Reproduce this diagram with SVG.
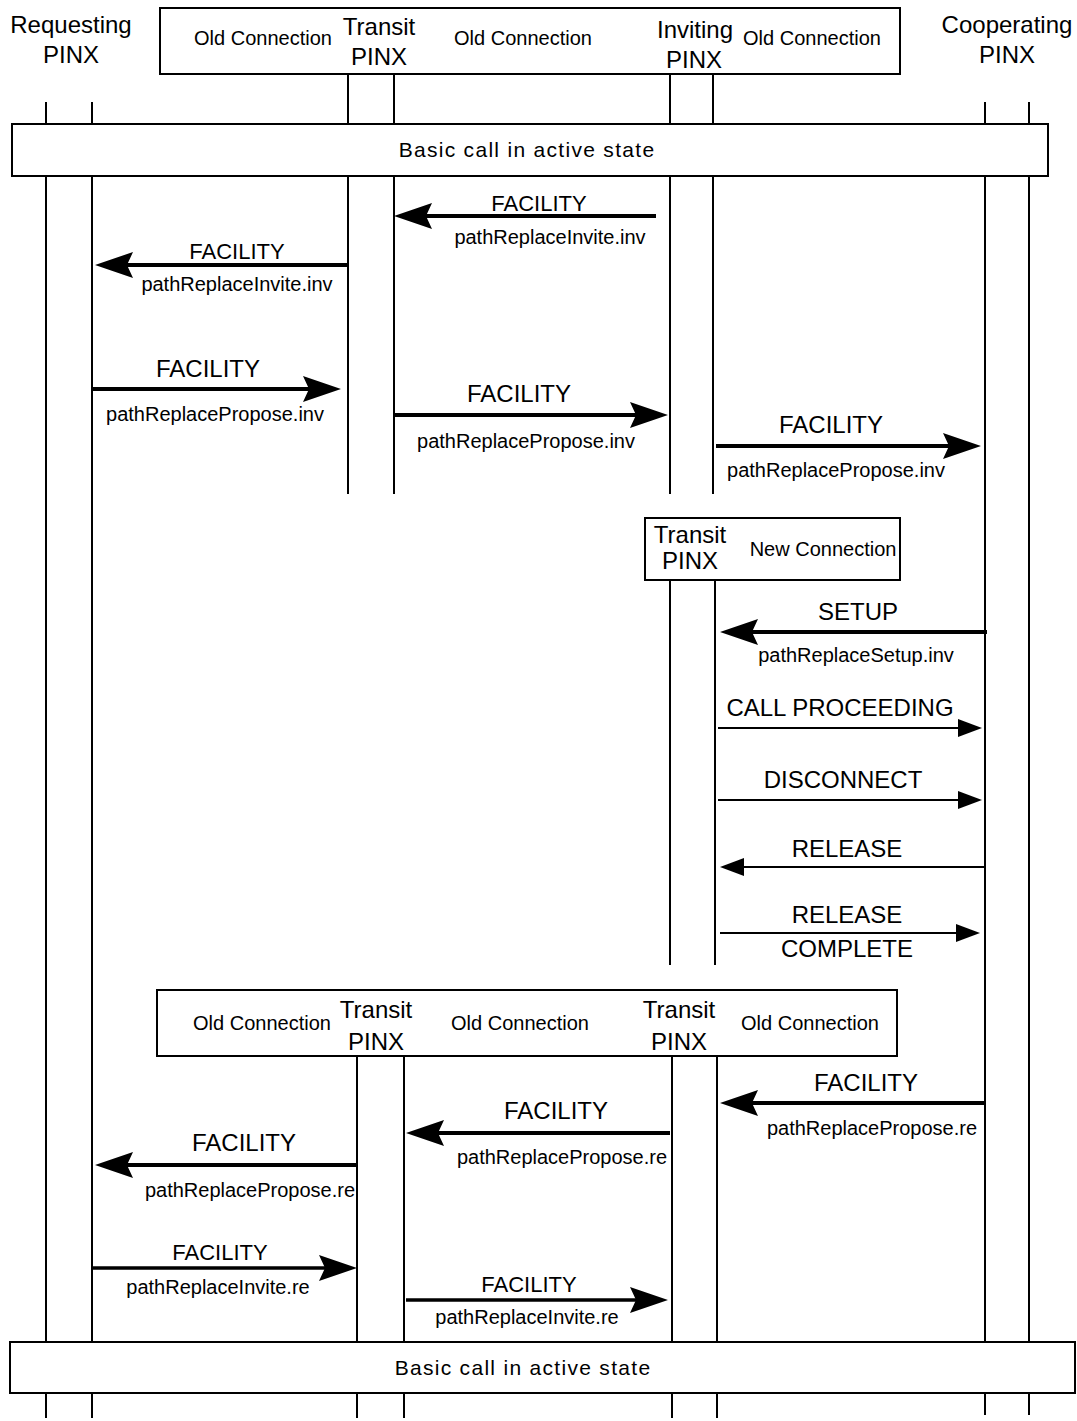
<svg xmlns="http://www.w3.org/2000/svg" width="1077" height="1421" viewBox="0 0 1077 1421">
<style>
text{font-family:"Liberation Sans",Arial,sans-serif;fill:#000;text-anchor:middle}
.h{font-size:24px}
.s{font-size:20px}
.m{font-size:24px}
.st{font-size:21px;letter-spacing:1.3px}
.box{fill:#fff;stroke:#000;stroke-width:2}
.life{stroke:#000;stroke-width:2;fill:none}
.big{stroke:#000;stroke-width:4;fill:none;marker-end:url(#ah)}
.med{stroke:#000;stroke-width:3.5;fill:none;marker-end:url(#ah)}
.thin{stroke:#000;stroke-width:2;fill:none;marker-end:url(#at)}
</style>
<defs>
<marker id="ah" markerUnits="userSpaceOnUse" viewBox="0 0 38 26" refX="28" refY="13" markerWidth="38" markerHeight="26" orient="auto">
<path d="M0,0 L38,13 L0,26 L6,13 Z" fill="#000"/>
</marker>
<marker id="at" markerUnits="userSpaceOnUse" viewBox="0 0 24 18" refX="16" refY="9" markerWidth="24" markerHeight="18" orient="auto">
<path d="M0,0 L24,9 L0,18 Z" fill="#000"/>
</marker>
</defs>
<rect width="1077" height="1421" fill="#fff"/>

<g id="lifelines">
<line class="life" x1="46" y1="102" x2="46" y2="1418"/>
<line class="life" x1="92" y1="102" x2="92" y2="1418"/>
<line class="life" x1="348" y1="74" x2="348" y2="494"/>
<line class="life" x1="394" y1="74" x2="394" y2="494"/>
<line class="life" x1="670" y1="74" x2="670" y2="494"/>
<line class="life" x1="713" y1="74" x2="713" y2="494"/>
<line class="life" x1="985" y1="102" x2="985" y2="1415"/>
<line class="life" x1="1029" y1="102" x2="1029" y2="1415"/>
<line class="life" x1="670" y1="580" x2="670" y2="965"/>
<line class="life" x1="715" y1="580" x2="715" y2="965"/>
<line class="life" x1="357" y1="1056" x2="357" y2="1418"/>
<line class="life" x1="404" y1="1056" x2="404" y2="1418"/>
<line class="life" x1="672" y1="1056" x2="672" y2="1418"/>
<line class="life" x1="717" y1="1056" x2="717" y2="1418"/>
</g>

<g id="requesting-pinx">
<text class="h" x="71" y="33">Requesting</text>
<text class="h" x="71" y="63">PINX</text>
</g>

<g id="cooperating-pinx">
<text class="h" x="1007" y="33">Cooperating</text>
<text class="h" x="1007" y="63">PINX</text>
</g>

<g id="old-connection-top">
<rect class="box" x="160" y="8" width="740" height="66"/>
<text class="s" x="263" y="45">Old Connection</text>
<text class="h" x="379" y="35">Transit</text>
<text class="h" x="379" y="65">PINX</text>
<text class="s" x="523" y="45">Old Connection</text>
<text class="h" x="695" y="38">Inviting</text>
<text class="h" x="694" y="68">PINX</text>
<text class="s" x="812" y="45">Old Connection</text>
</g>

<g id="basic-call-top">
<rect class="box" x="12" y="124" width="1036" height="52"/>
<text class="st" x="527" y="157">Basic call in active state</text>
</g>

<g id="new-connection">
<rect class="box" x="645" y="518" width="255" height="62"/>
<text class="h" x="690" y="543">Transit</text>
<text class="h" x="690" y="569">PINX</text>
<text class="s" x="823" y="556">New Connection</text>
</g>

<g id="old-connection-bottom">
<rect class="box" x="157" y="990" width="740" height="66"/>
<text class="s" x="262" y="1030">Old Connection</text>
<text class="h" x="376" y="1018">Transit</text>
<text class="h" x="376" y="1050">PINX</text>
<text class="s" x="520" y="1030">Old Connection</text>
<text class="h" x="679" y="1018">Transit</text>
<text class="h" x="679" y="1050">PINX</text>
<text class="s" x="810" y="1030">Old Connection</text>
</g>

<g id="basic-call-bottom">
<rect class="box" x="10" y="1342" width="1065" height="51"/>
<text class="st" x="523" y="1375">Basic call in active state</text>
</g>

<g id="connectors">
<line class="big" x1="656" y1="216" x2="404" y2="216"/>
<line class="big" x1="348" y1="265" x2="105" y2="265"/>
<line class="big" x1="92" y1="389" x2="331" y2="389"/>
<line class="big" x1="394" y1="415" x2="658" y2="415"/>
<line class="big" x1="716" y1="446" x2="971" y2="446"/>
<line class="big" x1="987" y1="632" x2="730" y2="632"/>
<line class="thin" x1="718" y1="728" x2="974" y2="728"/>
<line class="thin" x1="718" y1="800" x2="974" y2="800"/>
<line class="thin" x1="985" y1="867" x2="728" y2="867"/>
<line class="thin" x1="720" y1="933" x2="972" y2="933"/>
<line class="big" x1="985" y1="1103" x2="730" y2="1103"/>
<line class="big" x1="670" y1="1133" x2="416" y2="1133"/>
<line class="big" x1="356" y1="1165" x2="105" y2="1165"/>
<line class="med" x1="92" y1="1268" x2="347" y2="1268"/>
<line class="med" x1="406" y1="1300" x2="658" y2="1300"/>
</g>

<g id="labels">
<text style="font-size:22px" x="539" y="211">FACILITY</text>
<text class="s" x="550" y="244">pathReplaceInvite.inv</text>
<text style="font-size:22px" x="237" y="259">FACILITY</text>
<text class="s" x="237" y="291">pathReplaceInvite.inv</text>
<text class="m" x="208" y="377">FACILITY</text>
<text class="s" x="215" y="421">pathReplacePropose.inv</text>
<text class="m" x="519" y="402">FACILITY</text>
<text class="s" x="526" y="448">pathReplacePropose.inv</text>
<text class="m" x="831" y="433">FACILITY</text>
<text class="s" x="836" y="477">pathReplacePropose.inv</text>
<text class="m" x="858" y="620">SETUP</text>
<text class="s" x="856" y="662">pathReplaceSetup.inv</text>
<text class="m" x="840" y="716">CALL PROCEEDING</text>
<text class="m" x="843" y="788">DISCONNECT</text>
<text class="m" x="847" y="857">RELEASE</text>
<text class="m" x="847" y="923">RELEASE</text>
<text class="m" x="847" y="957">COMPLETE</text>
<text class="m" x="866" y="1091">FACILITY</text>
<text class="s" x="872" y="1135">pathReplacePropose.re</text>
<text class="m" x="556" y="1119">FACILITY</text>
<text class="s" x="562" y="1164">pathReplacePropose.re</text>
<text class="m" x="244" y="1151">FACILITY</text>
<text class="s" x="250" y="1197">pathReplacePropose.re</text>
<text style="font-size:22px" x="220" y="1260">FACILITY</text>
<text class="s" x="218" y="1294">pathReplaceInvite.re</text>
<text style="font-size:22px" x="529" y="1292">FACILITY</text>
<text class="s" x="527" y="1324">pathReplaceInvite.re</text>
</g>
</svg>
